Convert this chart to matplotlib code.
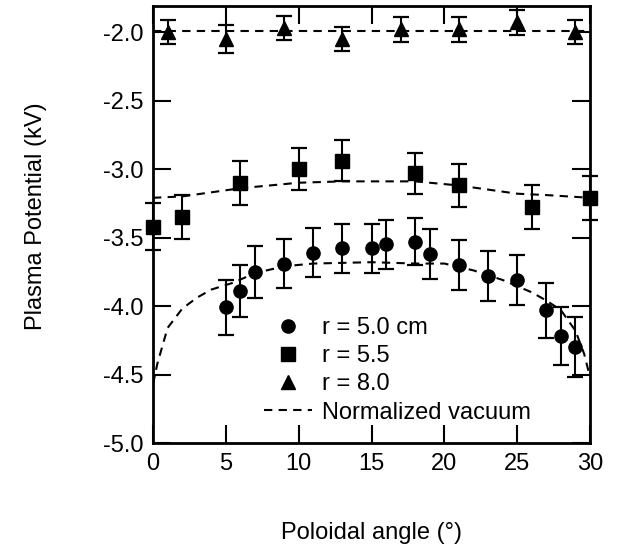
import matplotlib
matplotlib.use("Agg")
import matplotlib.pyplot as plt
from matplotlib.lines import Line2D

plt.rcParams['font.family'] = ['Liberation Sans', 'DejaVu Sans']
plt.rcParams['axes.unicode_minus'] = False

# r = 5.0 cm
angle_50 = [5, 6, 7, 9, 11, 13, 15, 16, 18, 19, 21, 23, 25, 27, 28, 29]
phi_50 = [-4.01, -3.89, -3.75, -3.69, -3.61, -3.58, -3.58, -3.55, -3.53, -3.62,
          -3.70, -3.78, -3.81, -4.03, -4.22, -4.30]
err_50 = [0.20, 0.19, 0.19, 0.18, 0.18, 0.18, 0.18, 0.18, 0.17, 0.18,
          0.18, 0.18, 0.18, 0.20, 0.21, 0.22]

# r = 5.5
angle_55 = [0, 2, 6, 10, 13, 18, 21, 26, 30]
phi_55 = [-3.42, -3.35, -3.10, -3.00, -2.94, -3.03, -3.12, -3.28, -3.21]
err_55 = [0.17, 0.16, 0.16, 0.15, 0.15, 0.15, 0.16, 0.16, 0.16]

# r = 8.0
angle_80 = [1, 5, 9, 13, 17, 21, 25, 29]
phi_80 = [-2.00, -2.05, -1.97, -2.05, -1.98, -1.98, -1.93, -2.00]
err_80 = [0.09, 0.10, 0.09, 0.09, 0.09, 0.09, 0.09, 0.09]

# normalized vacuum curves
vac_angle_50 = [0, 0.3, 1, 2, 3, 4, 5.5, 7, 9, 11, 15, 18, 20, 22, 24, 26, 27, 28, 29, 29.6, 30]
vac_phi_50 = [-4.57, -4.42, -4.16, -4.02, -3.94, -3.88, -3.83, -3.76, -3.71, -3.69,
              -3.68, -3.69, -3.69, -3.74, -3.81, -3.90, -3.96, -4.03, -4.18, -4.35, -4.52]
vac_angle_55 = [0, 2, 6, 10, 13, 15, 18, 21, 25, 27, 30]
vac_phi_55 = [-3.21, -3.20, -3.14, -3.10, -3.09, -3.09, -3.09, -3.12, -3.18, -3.19, -3.21]
vac_angle_80 = [0, 10, 20, 30]
vac_phi_80 = [-1.99, -1.99, -1.99, -1.99]

fig = plt.figure(figsize=(6.18, 5.48), dpi=100)
ax = fig.add_axes([0.2476, 0.1916, 0.7071, 0.7974])

dash = (0, (4, 3))
for xs, ys in [(vac_angle_50, vac_phi_50), (vac_angle_55, vac_phi_55), (vac_angle_80, vac_phi_80)]:
    ax.plot(xs, ys, color='black', lw=1.5, linestyle=dash, zorder=2)

ebkw = dict(color='black', ecolor='black', elinewidth=1.5, capsize=5.5,
            capthick=1.6, linestyle='none', zorder=3, clip_on=False)
ax.errorbar(angle_50, phi_50, yerr=err_50, marker='o', ms=9.5, **ebkw)
ax.errorbar(angle_55, phi_55, yerr=err_55, marker='s', ms=10, **ebkw)
ax.errorbar(angle_80, phi_80, yerr=err_80, marker='^', ms=10, **ebkw)

ax.set_xlim(0, 30)
ax.set_ylim(-5.0, -1.81)
ax.set_xticks([0, 5, 10, 15, 20, 25, 30])
ax.set_yticks([-5.0, -4.5, -4.0, -3.5, -3.0, -2.5, -2.0])
ax.set_yticklabels([f"{v:.1f}" for v in ax.get_yticks()])
ax.tick_params(direction='in', length=13, width=1.5, labelsize=17,
               top=True, right=True, pad=7)
for sp in ax.spines.values():
    sp.set_linewidth(2.0)

ax.set_xlabel("Poloidal angle (°)", fontsize=17, labelpad=34)
ax.set_ylabel("Plasma Potential (kV)", fontsize=17, labelpad=40)
ax.yaxis.label.set_y(0.52)

handles = [
    Line2D([], [], color='black', marker='o', ms=9.5, linestyle='none'),
    Line2D([], [], color='black', marker='s', ms=10, linestyle='none'),
    Line2D([], [], color='black', marker='^', ms=10, linestyle='none'),
    Line2D([], [], color='black', lw=1.5, linestyle=dash),
]
labels = ["r = 5.0 cm", "r = 5.5", "r = 8.0", "Normalized vacuum"]
ax.legend(handles, labels, loc='upper left', bbox_to_anchor=(0.228, 0.315),
          frameon=False, fontsize=17, handlelength=2.0, handletextpad=0.45,
          labelspacing=0.26, borderpad=0)

fig.savefig("out.png", dpi=100)
